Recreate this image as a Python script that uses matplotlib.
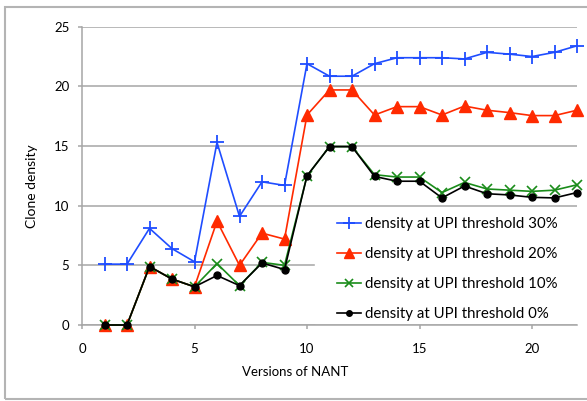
import matplotlib
matplotlib.use('Agg')
import matplotlib.pyplot as plt
from matplotlib.patches import Rectangle

plt.rcParams['font.family'] = ['Lato', 'DejaVu Sans']

versions = list(range(1, 23))
density_30 = [5.1, 5.1, 8.1, 6.4, 5.3, 15.3, 9.1, 12.0, 11.7, 21.9, 20.85, 20.85,
              21.9, 22.4, 22.4, 22.4, 22.3, 22.85, 22.7, 22.5, 22.85, 23.4]
density_20 = [0, 0, 4.9, 3.85, 3.2, 8.7, 5.0, 7.7, 7.2, 17.6, 19.7, 19.7,
              17.6, 18.3, 18.3, 17.6, 18.35, 18.0, 17.8, 17.55, 17.55, 18.0]
density_10 = [0, 0, 4.9, 3.85, 3.2, 5.15, 3.3, 5.25, 5.0, 12.5, 14.95, 14.95,
              12.6, 12.4, 12.4, 11.1, 11.95, 11.4, 11.3, 11.2, 11.3, 11.75]
density_0 = [0, 0, 4.9, 3.85, 3.2, 4.15, 3.3, 5.2, 4.65, 12.5, 14.95, 14.95,
             12.45, 12.05, 12.05, 10.65, 11.65, 11.0, 10.9, 10.7, 10.65, 11.1]
labels = ['density at UPI threshold 30%', 'density at UPI threshold 20%',
          'density at UPI threshold 10%', 'density at UPI threshold 0%']

fig = plt.figure(figsize=(5.87, 4.01), dpi=100)
ax = fig.add_axes([82 / 587, 1 - 325 / 401, 495 / 587, 298.3 / 401])

# outer chart border
fig.patches.append(Rectangle((5 / 587, 2 / 401), 1.0, 392 / 401, transform=fig.transFigure,
                             fill=False, edgecolor='#b4b4b4', lw=1.5))

ax.plot(versions, density_30, color='#1f4dff', lw=1.2, marker='+', ms=10, mew=1.3,
        label=labels[0], clip_on=False, zorder=3)
ax.plot(versions, density_20, color='#ff2a00', lw=1.2, marker='^', ms=9,
        label=labels[1], clip_on=False, zorder=3)
ax.plot(versions, density_10, color='#1a8c1a', lw=1.2, marker='x', ms=7, mew=1.2,
        label=labels[2], clip_on=False, zorder=4)
ax.plot(versions, density_0, color='black', lw=1.2, marker='o', ms=5,
        label=labels[3], clip_on=False, zorder=5)

ax.set_xlim(0, 22)
ax.set_ylim(0, 25)
ax.set_xticks([0, 5, 10, 15, 20])
ax.set_yticks([0, 5, 10, 15, 20, 25])
ax.set_axisbelow(True)
ax.yaxis.grid(True, color='#a6a6a6', lw=1.1)
for s in ['top', 'right']:
    ax.spines[s].set_visible(False)
for s in ['left', 'bottom']:
    ax.spines[s].set_color('#a6a6a6')
    ax.spines[s].set_linewidth(1.1)
ax.tick_params(axis='both', color='#a6a6a6', length=3, width=1.1, labelsize=9.5)
ax.tick_params(axis='x', pad=10)
ax.tick_params(axis='y', pad=6)

ax.set_xlabel('Versions of NANT', fontsize=9.5)
ax.xaxis.set_label_coords(0.43, -0.158)
ax.xaxis.label.set_va('center')
ax.set_ylabel('Clone density', fontsize=10)
ax.yaxis.set_label_coords(-0.101, 0.466)
ax.yaxis.label.set_va('center')

# white box behind legend hides the grid line
ax.add_patch(Rectangle((0.4707, 0.008), 0.53, 0.378, transform=ax.transAxes,
                       color='white', zorder=1))
leg = ax.legend(loc='upper left', bbox_to_anchor=(0.515, 0.362), frameon=False,
                fontsize=10.8, borderpad=0, borderaxespad=0, handlelength=1.6,
                handletextpad=0.25, labelspacing=1.07)
for h in leg.legend_handles:
    h.set_markersize(h.get_markersize() * 0.8)

fig.savefig('out.png', dpi=100)
